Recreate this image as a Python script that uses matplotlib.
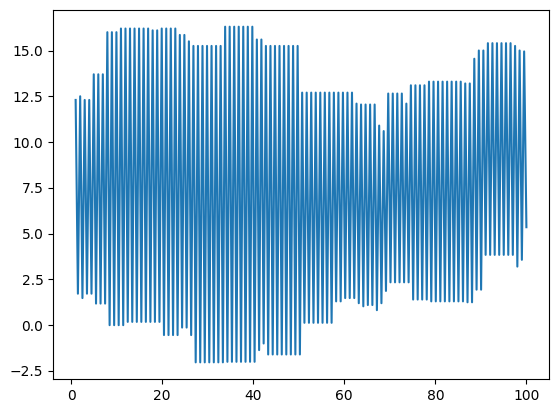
import numpy as np
import matplotlib.pyplot as plt

# peak values (one per cycle)
highs = [12.3, 12.5, 12.3, 12.3, 13.7, 13.7, 13.7, 16.0, 16.0, 16.0,
         16.2, 16.2, 16.2, 16.2, 16.2, 16.2, 16.2, 16.1, 16.1, 16.2,
         16.2, 16.2, 16.2, 15.85, 15.85, 15.5, 15.25, 15.25, 15.25, 15.25,
         15.25, 15.25, 15.25, 16.3, 16.3, 16.3, 16.3, 16.3, 16.3, 16.3,
         15.6, 15.6, 15.25, 15.25, 15.25, 15.25, 15.25, 15.25, 15.25, 15.25,
         12.7, 12.7, 12.7, 12.7, 12.7, 12.7, 12.7, 12.7, 12.7, 12.7,
         12.7, 12.7, 12.1, 12.05, 12.05, 12.05, 12.05, 10.9, 10.6, 12.65,
         12.65, 12.65, 12.65, 12.1, 13.1, 13.1, 13.1, 13.1, 13.3, 13.3,
         13.3, 13.3, 13.3, 13.3, 13.3, 13.3, 13.2, 13.2, 14.55, 15.0,
         15.0, 15.4, 15.4, 15.4, 15.4, 15.4, 15.4, 15.25, 15.0, 14.95]

# trough values between peaks (last entry is the end point)
lows = [1.72, 1.48, 1.72, 1.72, 1.18, 1.18, 1.18, 0.0, 0.0, 0.0,
        0.0, 0.18, 0.18, 0.18, 0.18, 0.18, 0.18, 0.18, 0.18, -0.54,
        -0.54, -0.54, -0.54, -0.13, -0.13, -0.54, -2.03, -2.03, -2.03, -2.03,
        -2.03, -2.03, -2.03, -2.0, -2.0, -2.0, -2.0, -2.0, -2.0, -2.0,
        -1.36, -1.0, -1.6, -1.6, -1.6, -1.6, -1.6, -1.6, -1.6, -1.6,
        0.13, 0.13, 0.13, 0.13, 0.13, 0.13, 0.13, 1.3, 1.3, 1.48,
        1.48, 1.48, 1.2, 1.03, 1.1, 1.1, 0.82, 1.2, 1.87, 2.34,
        2.34, 2.34, 2.34, 2.34, 1.4, 1.4, 1.4, 1.4, 1.3, 1.3,
        1.3, 1.3, 1.3, 1.3, 1.3, 1.3, 1.25, 1.25, 1.94, 1.94,
        3.84, 3.84, 3.84, 3.84, 3.84, 3.84, 3.84, 3.2, 3.57, 5.35]

y = np.empty(len(highs) + len(lows))
y[0::2] = highs
y[1::2] = lows
x = np.linspace(1, 100, len(y))

fig, ax = plt.subplots(figsize=(5.59, 4.13), dpi=100)
fig.subplots_adjust(left=0.095, right=0.982, top=0.976, bottom=0.082)
ax.plot(x, y)
fig.savefig("out.png")
